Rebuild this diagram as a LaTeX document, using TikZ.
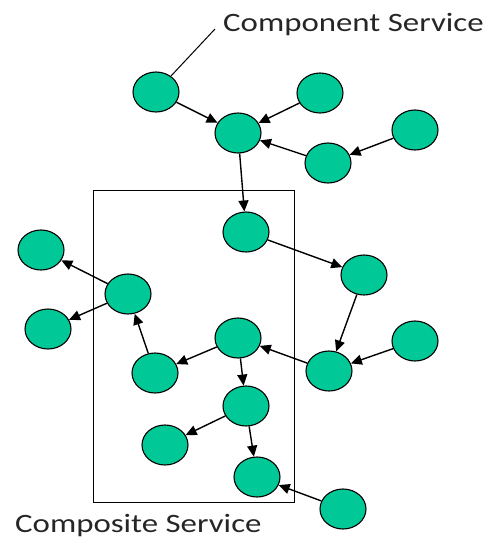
\documentclass[tikz,border=0pt]{standalone}
\usepackage{fontspec}
\setmainfont{Carlito}
\usetikzlibrary{arrows.meta,shapes.geometric}
\definecolor{svc}{RGB}{0,200,150}
\begin{document}
\begin{tikzpicture}[x=1pt,y=-1pt,
  svcnode/.style={ellipse,draw=black,line width=1.1pt,fill=svc,minimum width=46pt,minimum height=40pt,inner sep=0pt},
  flow/.style={line width=1.4pt,-{Triangle[length=11pt,width=10pt]}},
  lbl/.style={font=\fontsize{26.5}{30}\selectfont,text=black!85,inner sep=0pt,anchor=base west}]
\useasboundingbox (0,0) rectangle (491,539);
\draw[line width=0.9pt] (93,190) rectangle (294,502);
\node[svcnode] (a) at (156,92) {};
\node[svcnode] (b) at (238,133) {};
\node[svcnode] (c) at (320,93) {};
\node[svcnode] (d) at (415,130) {};
\node[svcnode] (e) at (328,163) {};
\node[svcnode] (f) at (246,232) {};
\node[svcnode] (g) at (41,250) {};
\node[svcnode] (h) at (128,294) {};
\node[svcnode] (i) at (48,329) {};
\node[svcnode] (j) at (238,338) {};
\node[svcnode] (k) at (155,373) {};
\node[svcnode] (l) at (364,275) {};
\node[svcnode] (m) at (329,371) {};
\node[svcnode] (n) at (415,341) {};
\node[svcnode] (o) at (246,406) {};
\node[svcnode] (p) at (165,445) {};
\node[svcnode] (q) at (257,477) {};
\node[svcnode] (r) at (343,509) {};
\node[lbl] (cs) at (223,31) {\scalebox{1.24}[1]{Component Service}};
\node[lbl] (cps) at (15,532) {\scalebox{1.24}[1]{Composite Service}};
\coordinate (cst) at (215,29);
\draw[line width=1pt] (cst) -- (a);
\draw[flow] (a) -- (b);
\draw[flow] (c) -- (b);
\draw[flow] (e) -- (b);
\draw[flow] (d) -- (e);
\draw[flow] (b) -- (f);
\draw[flow] (f) -- (l);
\draw[flow] (l) -- (m);
\draw[flow] (n) -- (m);
\draw[flow] (m) -- (j);
\draw[flow] (j) -- (k);
\draw[flow] (k) -- (h);
\draw[flow] (h) -- (g);
\draw[flow] (h) -- (i);
\draw[flow] (j) -- (o);
\draw[flow] (o) -- (p);
\draw[flow] (o) -- (q);
\draw[flow] (r) -- (q);
\end{tikzpicture}
\end{document}
